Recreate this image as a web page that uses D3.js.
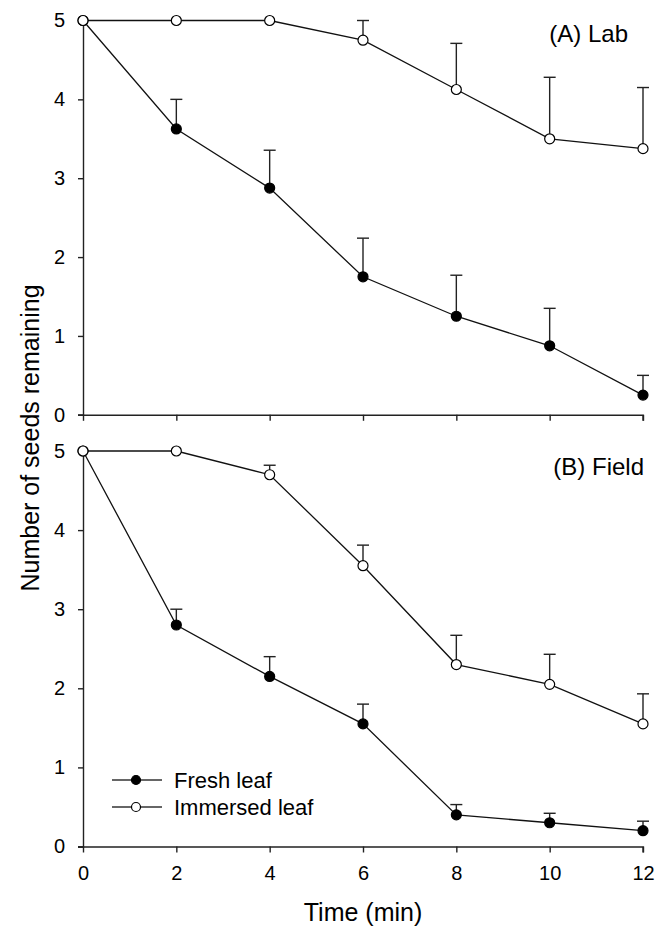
<!DOCTYPE html>
<html>
<head>
<meta charset="utf-8">
<script src="https://cdn.jsdelivr.net/npm/d3@7"></script>
<style>
  body { margin: 0; background: #fff; }
  text { font-family: "Liberation Sans", Arial, sans-serif; fill: #000; }
</style>
</head>
<body>
<script>
// data
var times = [0, 2, 4, 6, 8, 10, 12];
var yTicks = [0, 1, 2, 3, 4, 5];

var labFresh      = [5, 3.625, 2.875, 1.75, 1.25, 0.875, 0.25];
var labFreshErr   = [0, 0.375, 0.48, 0.49, 0.52, 0.475, 0.25];
var labImm        = [5, 5, 5, 4.75, 4.125, 3.5, 3.375];
var labImmErr     = [0, 0, 0, 0.25, 0.585, 0.78, 0.775];

var fieldFresh    = [5, 2.8, 2.15, 1.55, 0.4, 0.3, 0.2];
var fieldFreshErr = [0, 0.2, 0.25, 0.25, 0.13, 0.12, 0.12];
var fieldImm      = [5, 5, 4.7, 3.55, 2.3, 2.05, 1.55];
var fieldImmErr   = [0, 0, 0.12, 0.26, 0.37, 0.38, 0.38];

var seriesNames = ["Fresh leaf", "Immersed leaf"];

var width = 668, height = 929;

var svg = d3.select("body").append("svg")
    .attr("width", width)
    .attr("height", height);

var x = d3.scaleLinear().domain([0, 12]).range([83, 643]);

var panels = [
  { label: "(A) Lab", labelX: 628, labelY: 42, top: 20.5, bottom: 414.8, showX: false,
    fresh: labFresh, freshErr: labFreshErr, imm: labImm, immErr: labImmErr },
  { label: "(B) Field", labelX: 644, labelY: 475, top: 451, bottom: 846.5, showX: true,
    fresh: fieldFresh, freshErr: fieldFreshErr, imm: fieldImm, immErr: fieldImmErr }
];

panels.forEach(function(p) {
  var y = d3.scaleLinear().domain([0, 5]).range([p.bottom, p.top]);
  var g = svg.append("g");

  var xAxis = d3.axisBottom(x).tickValues(times).tickSize(6).tickPadding(13)
      .tickFormat(d3.format("d"));
  if (!p.showX) xAxis.tickFormat("");
  var gx = g.append("g")
      .attr("transform", "translate(0," + p.bottom + ")")
      .call(xAxis);

  var gy = g.append("g")
      .attr("transform", "translate(" + x(0) + ",0)")
      .call(d3.axisLeft(y).tickValues(yTicks).tickSize(5).tickPadding(13)
        .tickFormat(d3.format("d")));

  [gx, gy].forEach(function(a) {
    a.select(".domain").attr("stroke", "#222").attr("stroke-width", 1.4);
    a.selectAll(".tick line").attr("stroke", "#222").attr("stroke-width", 1.4);
    a.selectAll(".tick text").attr("font-size", "20px")
      .attr("font-family", "Liberation Sans, Arial, sans-serif");
  });
  gx.select(".domain").attr("d", "M" + (x(0) - 5) + ",0.5H" + x(12) + "V6");

  var series = [
    { vals: p.fresh, err: p.freshErr, fill: "#000" },
    { vals: p.imm, err: p.immErr, fill: "#fff" }
  ];

  // error bars (upper only)
  series.forEach(function(s) {
    var eb = g.append("g").attr("stroke", "#222").attr("stroke-width", 1.4);
    times.forEach(function(t, i) {
      if (s.err[i] <= 0) return;
      var x0 = x(t), y0 = y(s.vals[i]), y1 = y(s.vals[i] + s.err[i]);
      eb.append("line").attr("x1", x0).attr("x2", x0).attr("y1", y0).attr("y2", y1);
      eb.append("line").attr("x1", x0 - 6).attr("x2", x0 + 6).attr("y1", y1).attr("y2", y1);
    });
  });

  var line = d3.line()
      .x(function(d, i) { return x(times[i]); })
      .y(function(d) { return y(d); });

  series.forEach(function(s) {
    g.append("path")
      .datum(s.vals)
      .attr("d", line)
      .attr("fill", "none")
      .attr("stroke", "#111")
      .attr("stroke-width", 1.3);
  });

  series.forEach(function(s) {
    g.selectAll(null)
      .data(s.vals)
      .enter().append("circle")
      .attr("cx", function(d, i) { return x(times[i]); })
      .attr("cy", function(d) { return y(d); })
      .attr("r", 5)
      .attr("fill", s.fill)
      .attr("stroke", "#000")
      .attr("stroke-width", 1.2);
  });

  g.append("text")
    .attr("x", p.labelX)
    .attr("y", p.labelY)
    .attr("text-anchor", "end")
    .attr("font-size", "24px")
    .text(p.label);
});

// legend
var legend = svg.append("g");
seriesNames.forEach(function(name, i) {
  var ly = 780 + i * 27;
  legend.append("line")
    .attr("x1", 112).attr("x2", 162).attr("y1", ly).attr("y2", ly)
    .attr("stroke", "#333").attr("stroke-width", 1.4);
  legend.append("circle")
    .attr("cx", 136).attr("cy", ly).attr("r", 4.5)
    .attr("fill", i === 0 ? "#000" : "#fff")
    .attr("stroke", "#000").attr("stroke-width", 1.2);
  legend.append("text")
    .attr("x", 174).attr("y", ly).attr("dy", "0.36em")
    .attr("font-size", "22px")
    .text(name);
});

// axis titles
svg.append("text")
  .attr("transform", "translate(39,438) rotate(-90)")
  .attr("text-anchor", "middle")
  .attr("font-size", "25px")
  .text("Number of seeds remaining");

svg.append("text")
  .attr("x", 363)
  .attr("y", 921)
  .attr("text-anchor", "middle")
  .attr("font-size", "25px")
  .text("Time (min)");
</script>
</body>
</html>
